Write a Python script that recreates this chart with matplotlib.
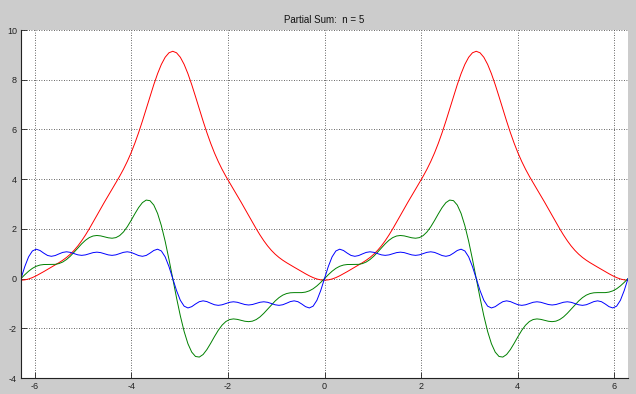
import numpy as np
import matplotlib
matplotlib.use("Agg")
import matplotlib.pyplot as plt

plt.rcParams['font.family'] = ['Liberation Sans', 'DejaVu Sans']

# x positions in units of pi/40, from -2*pi to 2*pi
x_steps = list(range(-80, 81))

red = [
    -0.065, -0.052, -0.017, 0.039, 0.111, 0.193, 0.280, 0.369, 0.458, 0.547,
    0.639, 0.738, 0.850, 0.981, 1.135, 1.315, 1.522, 1.753, 2.004, 2.269,
    2.540, 2.812, 3.078, 3.339, 3.595, 3.851, 4.115, 4.397, 4.707, 5.053,
    5.441, 5.870, 6.335, 6.825, 7.321, 7.802, 8.242, 8.617, 8.903, 9.083,
    9.144,
    9.083, 8.903, 8.617, 8.242, 7.802, 7.321, 6.825, 6.335, 5.870, 5.441,
    5.053, 4.707, 4.397, 4.115, 3.851, 3.595, 3.339, 3.078, 2.812, 2.540,
    2.269, 2.004, 1.753, 1.522, 1.315, 1.135, 0.981, 0.850, 0.738, 0.639,
    0.547, 0.458, 0.369, 0.280, 0.193, 0.111, 0.039, -0.017, -0.052, -0.065,
    -0.052, -0.017, 0.039, 0.111, 0.193, 0.280, 0.369, 0.458, 0.547,
    0.639, 0.738, 0.850, 0.981, 1.135, 1.315, 1.522, 1.753, 2.004, 2.269,
    2.540, 2.812, 3.078, 3.339, 3.595, 3.851, 4.115, 4.397, 4.707, 5.053,
    5.441, 5.870, 6.335, 6.825, 7.321, 7.802, 8.242, 8.617, 8.903, 9.083,
    9.144,
    9.083, 8.903, 8.617, 8.242, 7.802, 7.321, 6.825, 6.335, 5.870, 5.441,
    5.053, 4.707, 4.397, 4.115, 3.851, 3.595, 3.339, 3.078, 2.812, 2.540,
    2.269, 2.004, 1.753, 1.522, 1.315, 1.135, 0.981, 0.850, 0.738, 0.639,
    0.547, 0.458, 0.369, 0.280, 0.193, 0.111, 0.039, -0.017, -0.052, -0.065,
]

green = [
    0.0,
    0.155, 0.295, 0.411, 0.494, 0.544, 0.565, 0.567, 0.565, 0.572, 0.603,
    0.666, 0.767, 0.901, 1.062, 1.233, 1.398, 1.542, 1.649, 1.713, 1.733,
    1.717, 1.679, 1.641, 1.623, 1.647, 1.728, 1.874, 2.081, 2.333, 2.603,
    2.856, 3.055, 3.158, 3.134, 2.958, 2.621, 2.128, 1.501, 0.777,
    0.0,
    -0.777, -1.501, -2.128, -2.621, -2.958, -3.134, -3.158, -3.055, -2.856, -2.603,
    -2.333, -2.081, -1.874, -1.728, -1.647, -1.623, -1.641, -1.679, -1.717, -1.733,
    -1.713, -1.649, -1.542, -1.398, -1.233, -1.062, -0.901, -0.767, -0.666, -0.603,
    -0.572, -0.565, -0.567, -0.565, -0.544, -0.494, -0.411, -0.295, -0.155,
    0.0,
    0.155, 0.295, 0.411, 0.494, 0.544, 0.565, 0.567, 0.565, 0.572, 0.603,
    0.666, 0.767, 0.901, 1.062, 1.233, 1.398, 1.542, 1.649, 1.713, 1.733,
    1.717, 1.679, 1.641, 1.623, 1.647, 1.728, 1.874, 2.081, 2.333, 2.603,
    2.856, 3.055, 3.158, 3.134, 2.958, 2.621, 2.128, 1.501, 0.777,
    0.0,
    -0.777, -1.501, -2.128, -2.621, -2.958, -3.134, -3.158, -3.055, -2.856, -2.603,
    -2.333, -2.081, -1.874, -1.728, -1.647, -1.623, -1.641, -1.679, -1.717, -1.733,
    -1.713, -1.649, -1.542, -1.398, -1.233, -1.062, -0.901, -0.767, -0.666, -0.603,
    -0.572, -0.565, -0.567, -0.565, -0.544, -0.494, -0.411, -0.295, -0.155,
    0.0,
]

blue = [
    0.0,
    0.483, 0.874, 1.110, 1.182, 1.130, 1.023, 0.930, 0.896, 0.926, 0.992,
    1.053, 1.077, 1.055, 1.004, 0.954, 0.934, 0.953, 0.999, 1.044, 1.063,
    1.044, 0.999, 0.953, 0.934, 0.954, 1.004, 1.055, 1.077, 1.053, 0.992,
    0.926, 0.896, 0.930, 1.023, 1.130, 1.182, 1.110, 0.874, 0.483,
    0.0,
    -0.483, -0.874, -1.110, -1.182, -1.130, -1.023, -0.930, -0.896, -0.926, -0.992,
    -1.053, -1.077, -1.055, -1.004, -0.954, -0.934, -0.953, -0.999, -1.044, -1.063,
    -1.044, -0.999, -0.953, -0.934, -0.954, -1.004, -1.055, -1.077, -1.053, -0.992,
    -0.926, -0.896, -0.930, -1.023, -1.130, -1.182, -1.110, -0.874, -0.483,
    0.0,
    0.483, 0.874, 1.110, 1.182, 1.130, 1.023, 0.930, 0.896, 0.926, 0.992,
    1.053, 1.077, 1.055, 1.004, 0.954, 0.934, 0.953, 0.999, 1.044, 1.063,
    1.044, 0.999, 0.953, 0.934, 0.954, 1.004, 1.055, 1.077, 1.053, 0.992,
    0.926, 0.896, 0.930, 1.023, 1.130, 1.182, 1.110, 0.874, 0.483,
    0.0,
    -0.483, -0.874, -1.110, -1.182, -1.130, -1.023, -0.930, -0.896, -0.926, -0.992,
    -1.053, -1.077, -1.055, -1.004, -0.954, -0.934, -0.953, -0.999, -1.044, -1.063,
    -1.044, -0.999, -0.953, -0.934, -0.954, -1.004, -1.055, -1.077, -1.053, -0.992,
    -0.926, -0.896, -0.930, -1.023, -1.130, -1.182, -1.110, -0.874, -0.483,
    0.0,
]

x_ticks = [-6, -4, -2, 0, 2, 4, 6]
y_ticks = [-4, -2, 0, 2, 4, 6, 8, 10]
title = "Partial Sum:  n = 5"

x = np.array(x_steps) * np.pi / 40

fig = plt.figure(figsize=(6.36, 3.94), dpi=100, facecolor='#cccccc')
ax = fig.add_axes([21 / 636, 16 / 394, 607 / 636, 348 / 394])
ax.set_facecolor('white')

ax.plot(x, red, color='#ff0000', lw=0.7)
ax.plot(x, green, color='#008000', lw=0.7)
ax.plot(x, blue, color='#0000ff', lw=0.7)

ax.set_xlim(-2 * np.pi, 2 * np.pi)
ax.set_ylim(-4, 10)
ax.set_xticks(x_ticks)
ax.set_yticks(y_ticks)
ax.set_xticklabels([str(t) for t in x_ticks])
ax.set_yticklabels([str(t) for t in y_ticks])
ax.tick_params(direction='in', length=4, width=0.6, labelsize=6.5,
               pad=3, colors='#222222')
ax.grid(True, color='#333333', linestyle=(0, (1, 2)), linewidth=0.6)
ax.set_axisbelow(True)
for s in ['top', 'right']:
    ax.spines[s].set_visible(False)
for s in ['left', 'bottom']:
    ax.spines[s].set_color('#222222')
    ax.spines[s].set_linewidth(0.8)

fig.text(324.5 / 636, 1 - 20 / 394, title, ha='center', va='center',
         fontsize=7, color='#111111')

fig.savefig('out.png', dpi=100, facecolor=fig.get_facecolor())
